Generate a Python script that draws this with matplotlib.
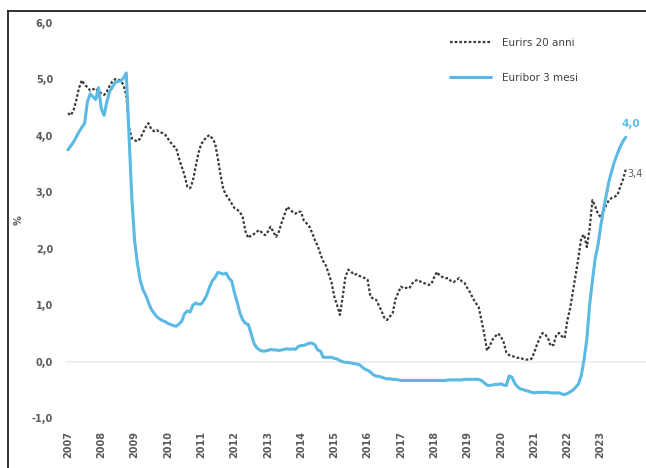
import numpy as np
import matplotlib
matplotlib.use("Agg")
import matplotlib.pyplot as plt
from matplotlib.lines import Line2D

# Monthly series, January 2007 to October 2023 (percent)
start_year = 2007

euribor_3m = [
    3.75, 3.82, 3.89, 3.98, 4.07, 4.15, 4.22, 4.60, 4.74, 4.69, 4.64, 4.85,   # 2007
    4.48, 4.36, 4.60, 4.78, 4.86, 4.94, 4.96, 4.97, 5.02, 5.11, 4.00, 2.90,   # 2008
    2.15, 1.75, 1.45, 1.28, 1.18, 1.05, 0.93, 0.86, 0.80, 0.76, 0.73, 0.71,   # 2009
    0.68, 0.66, 0.64, 0.63, 0.67, 0.72, 0.85, 0.90, 0.88, 1.00, 1.04, 1.02,   # 2010
    1.02, 1.09, 1.18, 1.32, 1.43, 1.49, 1.58, 1.57, 1.55, 1.57, 1.48, 1.43,   # 2011
    1.22, 1.05, 0.86, 0.74, 0.68, 0.66, 0.50, 0.33, 0.25, 0.21, 0.19, 0.19,   # 2012
    0.20, 0.22, 0.21, 0.21, 0.20, 0.21, 0.22, 0.23, 0.22, 0.23, 0.22, 0.27,   # 2013
    0.29, 0.29, 0.31, 0.33, 0.33, 0.30, 0.21, 0.19, 0.08, 0.08, 0.08, 0.08,   # 2014
    0.06, 0.05, 0.02, 0.00, -0.01, -0.01, -0.02, -0.03, -0.04, -0.05, -0.09, -0.13,  # 2015
    -0.15, -0.18, -0.23, -0.25, -0.26, -0.27, -0.29, -0.30, -0.30, -0.31, -0.31, -0.32,  # 2016
    -0.33, -0.33, -0.33, -0.33, -0.33, -0.33, -0.33, -0.33, -0.33, -0.33, -0.33, -0.33,  # 2017
    -0.33, -0.33, -0.33, -0.33, -0.33, -0.32, -0.32, -0.32, -0.32, -0.32, -0.32, -0.31,  # 2018
    -0.31, -0.31, -0.31, -0.31, -0.31, -0.33, -0.37, -0.41, -0.42, -0.41, -0.40, -0.40,  # 2019
    -0.39, -0.41, -0.42, -0.25, -0.27, -0.38, -0.44, -0.48, -0.49, -0.51, -0.52, -0.54,  # 2020
    -0.55, -0.54, -0.54, -0.54, -0.54, -0.54, -0.55, -0.55, -0.55, -0.55, -0.57, -0.58,  # 2021
    -0.56, -0.53, -0.50, -0.45, -0.39, -0.24, 0.04, 0.40, 1.01, 1.43, 1.83, 2.06,   # 2022
    2.40, 2.70, 2.95, 3.20, 3.38, 3.55, 3.68, 3.80, 3.90, 3.97,                   # 2023
]

eurirs_20y = [
    4.40, 4.36, 4.45, 4.63, 4.85, 4.98, 4.90, 4.86, 4.80, 4.82, 4.84, 4.78,   # 2007
    4.75, 4.72, 4.78, 4.88, 4.96, 5.00, 5.00, 4.97, 4.90, 4.72, 4.15, 3.95,   # 2008
    3.92, 3.90, 3.95, 4.05, 4.15, 4.22, 4.12, 4.08, 4.10, 4.06, 4.05, 4.02,   # 2009
    3.95, 3.88, 3.82, 3.78, 3.60, 3.45, 3.30, 3.10, 3.07, 3.20, 3.45, 3.69,   # 2010
    3.85, 3.92, 3.98, 4.01, 3.95, 3.87, 3.60, 3.30, 3.05, 2.95, 2.88, 2.80,   # 2011
    2.72, 2.69, 2.65, 2.55, 2.30, 2.19, 2.24, 2.26, 2.30, 2.33, 2.28, 2.24,   # 2012
    2.30, 2.39, 2.30, 2.21, 2.30, 2.46, 2.60, 2.74, 2.70, 2.65, 2.62, 2.66,   # 2013
    2.65, 2.50, 2.45, 2.39, 2.28, 2.15, 2.05, 1.90, 1.78, 1.70, 1.55, 1.40,   # 2014
    1.15, 1.00, 0.83, 1.15, 1.50, 1.63, 1.60, 1.54, 1.55, 1.52, 1.50, 1.48,   # 2015
    1.45, 1.15, 1.12, 1.10, 1.00, 0.90, 0.78, 0.74, 0.80, 0.86, 1.10, 1.22,   # 2016
    1.33, 1.30, 1.31, 1.30, 1.38, 1.43, 1.45, 1.42, 1.40, 1.38, 1.36, 1.38,   # 2017
    1.50, 1.59, 1.52, 1.50, 1.48, 1.48, 1.43, 1.41, 1.45, 1.48, 1.42, 1.39,   # 2018
    1.30, 1.22, 1.12, 1.04, 0.97, 0.74, 0.50, 0.20, 0.28, 0.39, 0.45, 0.50,   # 2019
    0.45, 0.35, 0.16, 0.12, 0.10, 0.09, 0.07, 0.07, 0.05, 0.04, 0.04, 0.05,   # 2020
    0.16, 0.30, 0.42, 0.51, 0.48, 0.42, 0.28, 0.30, 0.48, 0.51, 0.45, 0.42,   # 2021
    0.74, 0.95, 1.25, 1.55, 1.85, 2.20, 2.25, 2.03, 2.35, 2.86, 2.75, 2.62,   # 2022
    2.56, 2.66, 2.78, 2.86, 2.90, 2.92, 2.95, 3.09, 3.22, 3.40,               # 2023
]

year_labels = [str(y) for y in range(2007, 2024)]
y_ticks = [-1, 0, 1, 2, 3, 4, 5, 6]
y_tick_labels = ["-1,0", "0,0", "1,0", "2,0", "3,0", "4,0", "5,0", "6,0"]
series_names = ["Eurirs 20 anni", "Euribor 3 mesi"]
end_labels = ["3,4", "4,0"]

BLUE = "#5bb9e4"
DARK = "#3b3b3b"
TICK = "#5a5a5a"

W, H = 646, 468
fig = plt.figure(figsize=(W / 100, H / 100), dpi=100)
fig.patch.set_facecolor("white")

ax = fig.add_axes([60 / W, 44 / H, (W - 60) / W, 407 / H])
x_eur = start_year + np.arange(len(euribor_3m)) / 12
x_irs = start_year + np.arange(len(eurirs_20y)) / 12

ax.hlines(0, 2006.95, 2024.4, color="#ececec", lw=1.2, zorder=0)

ax.plot(x_irs, eurirs_20y, color=DARK, lw=1.6, linestyle=(0, (1.2, 0.9)),
        label=series_names[0], zorder=2)
ax.plot(x_eur, euribor_3m, color=BLUE, lw=2.2, label=series_names[1],
        solid_capstyle="round", zorder=3)

ax.set_xlim(2006.76, 2024.36)
ax.set_ylim(-1.1, 6.1)

for s in ax.spines.values():
    s.set_visible(False)

ax.set_yticks(y_ticks)
ax.set_yticklabels(y_tick_labels)
ax.set_xticks(range(2007, 2024))
ax.set_xticklabels(year_labels, rotation=90)
ax.tick_params(axis="both", length=0, labelcolor=TICK, labelsize=7)
ax.tick_params(axis="y", pad=5)
ax.tick_params(axis="x", pad=5)
for lab in ax.get_xticklabels() + ax.get_yticklabels():
    lab.set_fontweight("bold")

ax.set_ylabel("%", color=TICK, fontsize=7, fontweight="bold", labelpad=6)

# End-of-series value labels
ax.annotate(end_labels[1], (x_eur[-1], euribor_3m[-1]), xytext=(4, 6),
            textcoords="offset points", color=BLUE, fontsize=7.5,
            fontweight="bold", ha="center", va="bottom", annotation_clip=False)
ax.annotate(end_labels[0], (x_irs[-1], eurirs_20y[-1]), xytext=(1.5, -3),
            textcoords="offset points", color=TICK, fontsize=7,
            ha="left", va="center", annotation_clip=False)

leg = ax.legend(loc="upper left", bbox_to_anchor=(450 / W, 430 / H),
                bbox_transform=fig.transFigure, frameon=False, fontsize=7.5,
                handlelength=3.9, handletextpad=1.1, labelspacing=2.4,
                borderpad=0, borderaxespad=0)
for t in leg.get_texts():
    t.set_color("#404040")

# Frame along the top and left edges of the picture
fig.add_artist(Line2D([8 / W, 8 / W], [0, 1 - 11 / H], transform=fig.transFigure,
                      color="#222222", lw=1.3))
fig.add_artist(Line2D([8 / W, 1], [1 - 11 / H, 1 - 11 / H], transform=fig.transFigure,
                      color="#222222", lw=1.3))

fig.savefig("out.png", dpi=100, facecolor="white")
